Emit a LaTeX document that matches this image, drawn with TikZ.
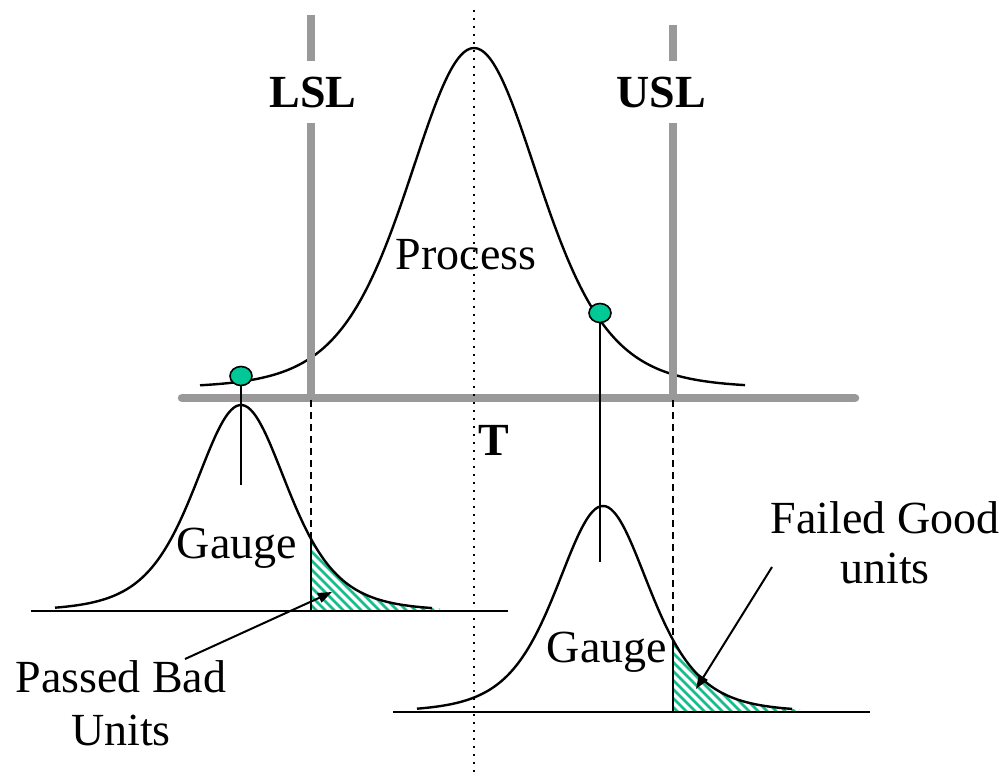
\documentclass[tikz,border=0pt]{standalone}
\usepackage{fontspec}
\setmainfont{Liberation Serif}
\usetikzlibrary{arrows.meta,shapes.geometric}
\definecolor{barg}{RGB}{153,153,153}
\definecolor{dotg}{RGB}{0,200,150}
\definecolor{hatchc}{RGB}{20,190,140}
\begin{document}
\begin{tikzpicture}[x=1pt,y=-1pt,
  declare function={gp(\t)=340/((1+(\t/100)^2/3.2)^4); gg(\t)=206/((1+(\t/100)^2/1.1694)^3);},
  lbl/.style={font=\fontsize{46}{50}\selectfont},
  boldlbl/.style={font=\fontsize{46}{50}\selectfont\bfseries},
  curve/.style={line width=2.4pt, black, line join=round},
  barline/.style={line width=8.5pt, barg},
  stem/.style={line width=2.4pt, black},
  baseln/.style={line width=2.4pt, black},
  dashln/.style={line width=1.5pt, black, dash pattern=on 7pt off 5pt},
  dotln/.style={line width=1.6pt, black, dash pattern=on 1.6pt off 6.4pt},
  gdot/.style={ellipse, draw=black, line width=1.6pt, fill=dotg, minimum width=22pt, minimum height=19pt, inner sep=0pt},
  hatchln/.style={line width=2.8pt, hatchc},
  arr/.style={line width=2pt, black, -{Triangle[length=14pt,width=10pt]}}
]
\useasboundingbox (0,0) rectangle (1008,775);

% process curve
\draw[curve] plot[domain=200:745, samples=160, smooth] (\x,{388-gp(\x-474)});

% spec bars and axis
\draw[barline] (311,15) -- (311,398);
\draw[barline] (673,25) -- (673,398);
\draw[barline, line cap=round] (182,398) -- (855,398);

% LSL / USL labels (white box hides the bar)
\node[boldlbl, fill=white, inner xsep=3pt, inner ysep=16pt] (lsl) at (313,92) {LSL};
\node[boldlbl, fill=white, inner xsep=3pt, inner ysep=16pt] (usl) at (661,92) {USL};
\node[boldlbl, anchor=base] (tgt) at (494,455) {T};
\node[lbl, anchor=base] (proc) at (466,270) {Process};

% left gauge hatch
\begin{scope}
  \clip (311,611) -- plot[domain=311:440, samples=60, smooth] (\x,{611-gg(\x-241)}) -- (440,611) -- cycle;
  \foreach \i in {190,199,...,450} \draw[hatchln] (\i,520) -- ({\i+110},630);
\end{scope}
% right gauge hatch
\begin{scope}
  \clip (673,712) -- plot[domain=673:800, samples=60, smooth] (\x,{712-gg(\x-603)}) -- (800,712) -- cycle;
  \foreach \i in {550,559,...,810} \draw[hatchln] (\i,620) -- ({\i+110},730);
\end{scope}

% gauge curves and baselines
\draw[baseln] (31,611) -- (508,611);
\draw[baseln] (393,712) -- (870,712);
\draw[curve] plot[domain=55:432, samples=140, smooth] (\x,{611-gg(\x-241)});
\draw[curve] plot[domain=417:792, samples=140, smooth] (\x,{712-gg(\x-603)});
\draw[line width=2pt] (311,611) -- (311,{611-gg(70)});
\draw[line width=2pt] (673,712) -- (673,{712-gg(70)});

% dashed projections of LSL / USL
\draw[dashln] (311,400) -- (311,{611-gg(70)});
\draw[dashln] (673,400) -- (673,{712-gg(70)});

% target dotted line
\draw[dotln] (474,10) -- (474,775);

% stems and dots
\node[gdot] (dl) at (241,376) {};
\node[gdot] (dr) at (600,313) {};
\coordinate (sl) at (241,485);
\coordinate (sr) at (600,562);
\draw[stem] (dl.south) -- (sl);
\draw[stem] (dr.south) -- (sr);

% gauge labels
\node[lbl, anchor=base] (gl) at (237,558) {Gauge};
\node[lbl, anchor=base] (gr) at (607,662) {Gauge};

% annotations
\node[lbl, anchor=base] (pb1) at (121,692) {Passed Bad};
\node[lbl, anchor=base] (pb2) at (121,745) {Units};
\node[lbl, anchor=base] (fg1) at (885,533) {Failed Good};
\node[lbl, anchor=base] (fg2) at (885,583) {units};
\coordinate (pbs) at (185,659);
\coordinate (pbt) at (332,592);
\coordinate (fgs) at (772,567);
\coordinate (fgt) at (696,689);
\draw[arr] (pbs) -- (pbt);
\draw[arr] (fgs) -- (fgt);
\end{tikzpicture}
\end{document}
